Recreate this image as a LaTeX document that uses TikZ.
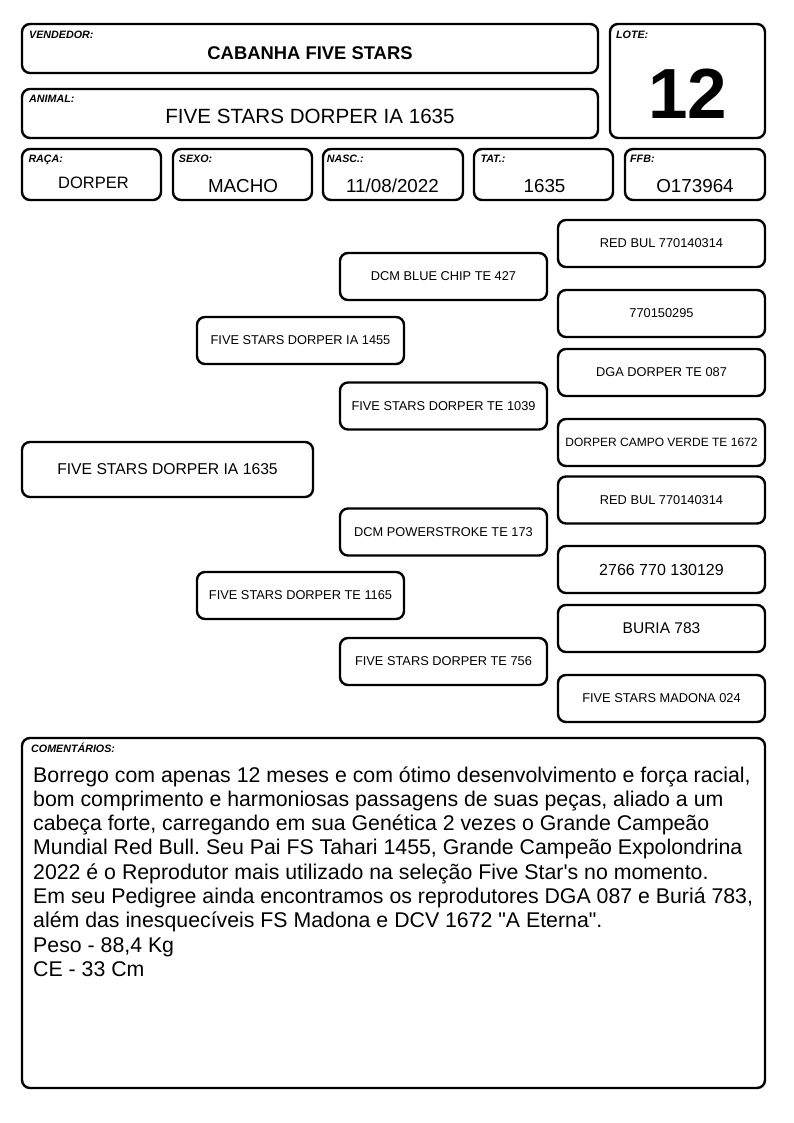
\documentclass[tikz,border=0pt]{standalone}
\usepackage{fontspec}
\setmainfont{Liberation Sans}[Ligatures=TeXOff]
\frenchspacing

\begin{document}
\begin{tikzpicture}[x=1pt,y=-1pt,line width=2.4pt,
	box/.style={draw,rounded corners=8pt,inner sep=0pt},
	pedbox/.style={box,minimum width=207pt,minimum height=47pt,font=\fontsize{12.8pt}{15pt}\selectfont},
	lbl/.style={anchor=base west,inner sep=0pt,font=\bfseries\itshape\fontsize{10.7pt}{12pt}\selectfont},
	val/.style={anchor=base,inner sep=0pt,font=\fontsize{18.8pt}{20pt}\selectfont}]
	\useasboundingbox (0,0) rectangle (794,1123);
	
	% cabecalho
	\node[box,minimum width=576pt,minimum height=49pt] (vendedor) at (310,48.5) {};
	\node[box,minimum width=576pt,minimum height=49pt] (animal) at (310,113.5) {};
	\node[box,minimum width=155pt,minimum height=114pt] (lote) at (687.5,81) {};
	\node[lbl] (vendedorlbl) at (28,39) {VENDEDOR:};
	\node[lbl] (animallbl) at (28,102.3) {ANIMAL:};
	\node[lbl] (lotelbl) at (615,38.3) {LOTE:};
	\node[val,font=\bfseries\fontsize{18.4pt}{20pt}\selectfont] (vendedorval) at (310,60) {CABANHA FIVE STARS};
	\node[val,font=\fontsize{20.6pt}{22pt}\selectfont] (animalval) at (310,124) {FIVE STARS DORPER IA 1635};
	\node[val,font=\bfseries\fontsize{71pt}{74pt}\selectfont] (loteval) at (687.5,118.3) {12};
	
	% dados
	\node[box,minimum width=139pt,minimum height=51pt] (raca) at (91.5,174.5) {};
	\node[box,minimum width=139pt,minimum height=51pt] (sexo) at (242.5,174.5) {};
	\node[box,minimum width=140pt,minimum height=51pt] (nasc) at (393,174.5) {};
	\node[box,minimum width=139pt,minimum height=51pt] (tat) at (543.5,174.5) {};
	\node[box,minimum width=140pt,minimum height=51pt] (ffb) at (695,174.5) {};
	\node[lbl] (racalbl) at (27.3,162.7) {RAÇA:};
	\node[lbl] (sexolbl) at (177.7,162.7) {SEXO:};
	\node[lbl] (nasclbl) at (325.7,162.7) {NASC.:};
	\node[lbl] (tatlbl) at (479.3,162.7) {TAT.:};
	\node[lbl] (ffblbl) at (629,162.7) {FFB:};
	\node[val,font=\fontsize{16.5pt}{18pt}\selectfont] (racaval) at (93.5,188.3) {DORPER};
	\node[val] (sexoval) at (243,193) {MACHO};
	\node[val] (nascval) at (392.5,193) {11/08/2022};
	\node[val] (tatval) at (544.5,193) {1635};
	\node[val] (ffbval) at (695,193) {O173964};
	
	% genealogia
	\node[box,minimum width=291pt,minimum height=55pt,font=\fontsize{15.7pt}{17pt}\selectfont] (filho) at (167.5,469.5) {FIVE STARS DORPER IA 1635};
	\node[pedbox] (pai) at (300.5,340.5) {FIVE STARS DORPER IA 1455};
	\node[pedbox] (mae) at (300.5,595.5) {FIVE STARS DORPER TE 1165};
	\node[pedbox] (avopp) at (443.5,276.5) {DCM BLUE CHIP TE 427};
	\node[pedbox] (avopm) at (443.5,406) {FIVE STARS DORPER TE 1039};
	\node[pedbox] (avomp) at (443.5,532) {DCM POWERSTROKE TE 173};
	\node[pedbox] (avomm) at (443.5,661.5) {FIVE STARS DORPER TE 756};
	\node[pedbox] (bis1) at (661.5,243.5) {RED BUL 770140314};
	\node[pedbox] (bis2) at (661.5,313.5) {770150295};
	\node[pedbox] (bis3) at (661.5,372.5) {DGA DORPER TE 087};
	\node[pedbox,font=\fontsize{12pt}{14pt}\selectfont] (bis4) at (661.5,442.5) {DORPER CAMPO VERDE TE 1672};
	\node[pedbox] (bis5) at (661.5,500) {RED BUL 770140314};
	\node[pedbox,font=\fontsize{16pt}{18pt}\selectfont] (bis6) at (661.5,569.5) {2766 770 130129};
	\node[pedbox,font=\fontsize{15.5pt}{18pt}\selectfont] (bis7) at (661.5,628.5) {BURIA 783};
	\node[pedbox] (bis8) at (661.5,698.5) {FIVE STARS MADONA 024};
	
	% comentarios
	\node[box,minimum width=743pt,minimum height=350pt] (coment) at (393.5,913) {};
	\node[lbl] (comentlbl) at (30,752) {COMENTÁRIOS:};
	\node[anchor=base west,inner sep=0pt,align=left,font=\fontsize{21.3pt}{24.3pt}\selectfont] (comenttxt) at (32,976.4) {Borrego com apenas 12 meses e com ótimo desenvolvimento e força racial,\\
		bom comprimento e harmoniosas passagens de suas peças, aliado a um\\
		cabeça forte, carregando em sua Genética 2 vezes o Grande Campeão\\
		Mundial Red Bull. Seu Pai FS Tahari 1455, Grande Campeão Expolondrina\\
		2022 é o Reprodutor mais utilizado na seleção Five Star's no momento.\\
		Em seu Pedigree ainda encontramos os reprodutores DGA 087 e Buriá 783,\\
		além das inesquecíveis FS Madona e DCV 1672 "A Eterna".\\
		Peso - 88,4 Kg\\
		CE - 33 Cm};
\end{tikzpicture}
\end{document}
